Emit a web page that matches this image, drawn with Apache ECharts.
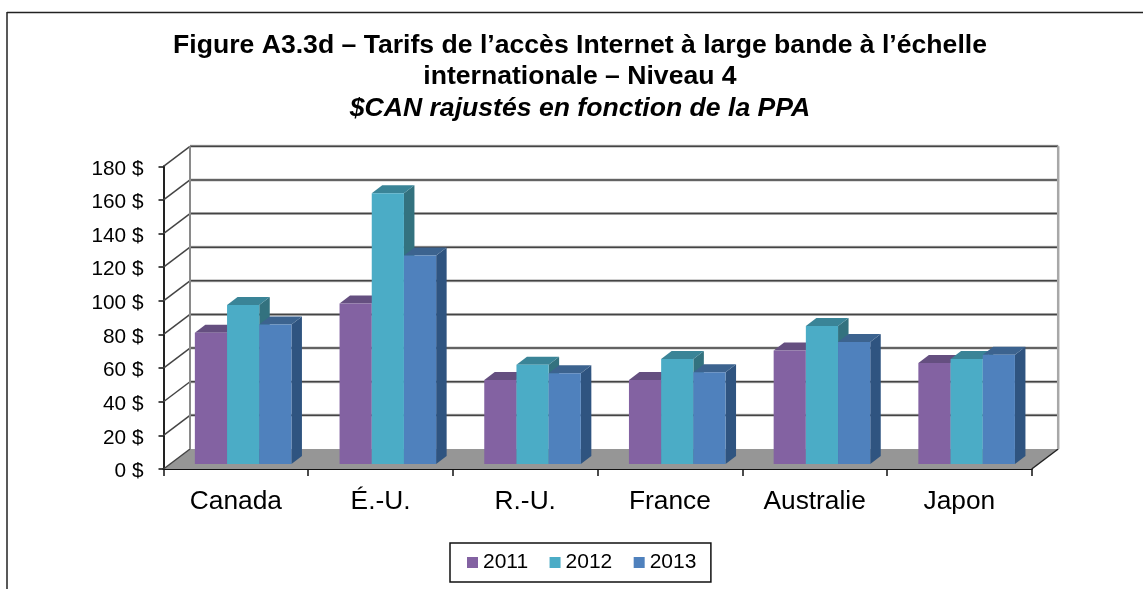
<!DOCTYPE html>
<html>
<head>
<meta charset="utf-8">
<script src="https://cdn.jsdelivr.net/npm/echarts@6/dist/echarts.min.js"></script>
<style>
html, body { margin: 0; padding: 0; background: #fff; }
#chart { width: 1143px; height: 589px; }
</style>
</head>
<body>
<div id="chart"></div>
<script>
var categories = ['Canada', 'É.-U.', 'R.-U.', 'France', 'Australie', 'Japon'];
var years = ['2011', '2012', '2013'];
var values2011 = [78, 95.5, 50, 50, 67.5, 60];
var values2012 = [94.5, 161, 59, 62.5, 82, 62.5];
var values2013 = [83, 124, 54, 54.5, 72.5, 65];
var yTicks = [0, 20, 40, 60, 80, 100, 120, 140, 160, 180];

var FONT = '"Liberation Sans", Arial, sans-serif';
// 3D look: how far the back wall and the bars are pushed, in px
var WALL_DX = 26.5, WALL_DY = -20;
var BAR_SHIFT_X = 7.3, BAR_SHIFT_Y = -5;
var BAR_DX = 10.5, BAR_DY = -8;
var BAR_RATIO = 0.2225;

var faces = [
    { front: '#8362a2', side: '#5f4a7c', top: '#654f80' },
    { front: '#4bacc6', side: '#33727f', top: '#3a8497' },
    { front: '#4f81bd', side: '#2f5480', top: '#3c638f' }
];

function poly(points, color) {
    return { type: 'polygon', shape: { points: points }, style: { fill: color } };
}
function line(x1, y1, x2, y2, color, width) {
    return {
        type: 'line',
        shape: { x1: x1, y1: y1, x2: x2, y2: y2 },
        style: { stroke: color, lineWidth: width, fill: null }
    };
}

// floor, back wall grid lines and the diagonals on the side wall
function renderWall(params, api) {
    var rect = params.coordSys;
    var y = api.coord([0, api.value(1)])[1];
    var x0 = rect.x, x1 = rect.x + rect.width;
    var children = [];
    if (api.value(1) === 0) {
        children.push(poly([
            [x0, y], [x1, y], [x1 + WALL_DX, y + WALL_DY], [x0 + WALL_DX, y + WALL_DY]
        ], '#969696'));
        children.push(line(x1, y, x1 + WALL_DX, y + WALL_DY, '#222', 1.5));
    } else {
        children.push(line(x0 + WALL_DX, y + WALL_DY, x1 + WALL_DX, y + WALL_DY, '#c0c0c0', 3));
        children.push(line(x0 + WALL_DX, y + WALL_DY, x1 + WALL_DX, y + WALL_DY, '#444', 1.5));
    }
    children.push(line(x0, y, x0 + WALL_DX, y + WALL_DY, '#444', 1.5));
    if (api.value(1) === yTicks[yTicks.length - 1]) {
        var bottom = rect.y + rect.height + WALL_DY;
        children.push(line(x0 + WALL_DX, y + WALL_DY, x0 + WALL_DX, bottom, '#8a8a8a', 2));
        children.push(line(x1 + WALL_DX, y + WALL_DY, x1 + WALL_DX, bottom, '#a8a8a8', 2.5));
    }
    return { type: 'group', children: children };
}

function barRenderer(slot) {
    return function (params, api) {
        var top = api.coord([api.value(0), api.value(1)]);
        var base = api.coord([api.value(0), 0]);
        var w = api.size([1, 0])[0] * BAR_RATIO;
        var x = top[0] + BAR_SHIFT_X + (slot - 1.5) * w;
        var yTop = top[1] + BAR_SHIFT_Y;
        var yBase = base[1] + BAR_SHIFT_Y;
        var c = faces[slot];
        return {
            type: 'group',
            children: [
                poly([[x + w, yTop], [x + w + BAR_DX, yTop + BAR_DY], [x + w + BAR_DX, yBase + BAR_DY], [x + w, yBase]], c.side),
                poly([[x, yTop], [x + BAR_DX, yTop + BAR_DY], [x + w + BAR_DX, yTop + BAR_DY], [x + w, yTop]], c.top),
                poly([[x, yTop], [x + w, yTop], [x + w, yBase], [x, yBase]], c.front)
            ]
        };
    };
}

function barSeries(name, slot, values) {
    return {
        name: name,
        type: 'custom',
        z: 3,
        clip: false,
        itemStyle: { color: faces[slot].front },
        encode: { x: 0, y: 1 },
        data: values.map(function (v, i) { return [i, v]; }),
        renderItem: barRenderer(slot)
    };
}

var option = {
    animation: false,
    backgroundColor: '#fff',
    textStyle: { fontFamily: FONT },
    title: [
        { text: 'Figure A3.3d – Tarifs de l’accès Internet à large bande à l’échelle', left: 575, top: 27.5, textAlign: 'center',
          textStyle: { fontFamily: FONT, fontSize: 26.6, fontWeight: 'bold', color: '#000' } },
        { text: 'internationale – Niveau 4', left: 575, top: 58.5, textAlign: 'center',
          textStyle: { fontFamily: FONT, fontSize: 26.6, fontWeight: 'bold', color: '#000' } },
        { text: '$CAN rajustés en fonction de la PPA', left: 575, top: 90.5, textAlign: 'center',
          textStyle: { fontFamily: FONT, fontSize: 26.6, fontWeight: 'bold', fontStyle: 'italic', color: '#000' } }
    ],
    legend: {
        data: years,
        left: 450,
        top: 543,
        orient: 'horizontal',
        icon: 'rect',
        itemWidth: 11,
        itemHeight: 11,
        itemGap: 21.4,
        padding: [9, 14.5, 9, 17],
        borderColor: '#111',
        borderWidth: 1.5,
        textStyle: { fontFamily: FONT, fontSize: 21, color: '#000' }
    },
    grid: { left: 163.5, right: 111.3, top: 166.3, bottom: 120, containLabel: false },
    xAxis: {
        type: 'category',
        data: categories,
        axisLine: { show: true, lineStyle: { color: '#111', width: 2 } },
        axisTick: { show: true, length: 7, lineStyle: { color: '#111', width: 1.5 } },
        axisLabel: { color: '#000', fontFamily: FONT, fontSize: 26.3, margin: 20 }
    },
    yAxis: {
        type: 'value',
        min: 0,
        max: 180,
        interval: 20,
        axisLine: { show: true, lineStyle: { color: '#222', width: 2 } },
        axisTick: { show: true, length: 5, lineStyle: { color: '#111', width: 1.5 } },
        splitLine: { show: false },
        axisLabel: {
            margin: 20,
            formatter: '{t|{value} $}',
            rich: { t: { color: '#000', fontFamily: FONT, fontSize: 20.8, padding: [5, 0, 0, 0] } }
        }
    },
    series: [
        {
            name: 'wall',
            type: 'custom',
            z: 1,
            clip: false,
            silent: true,
            encode: { x: 0, y: 1 },
            data: yTicks.map(function (v) { return [0, v]; }),
            renderItem: renderWall
        },
        barSeries(years[0], 0, values2011),
        barSeries(years[1], 1, values2012),
        barSeries(years[2], 2, values2013)
    ],
    // outer frame of the figure, cut off on the right and at the bottom
    graphic: [
        { type: 'line', shape: { x1: 7, y1: 12.5, x2: 1143, y2: 12.5 }, style: { stroke: '#222', lineWidth: 1.5 } },
        { type: 'line', shape: { x1: 7, y1: 12, x2: 7, y2: 589 }, style: { stroke: '#222', lineWidth: 1.5 } }
    ]
};

var myChart = echarts.init(document.getElementById('chart'));
myChart.setOption(option);
</script>
</body>
</html>
